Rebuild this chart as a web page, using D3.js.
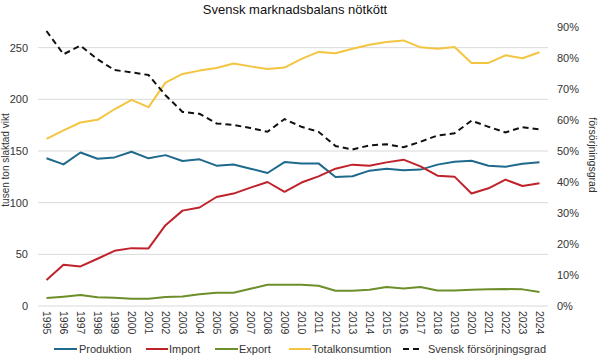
<!DOCTYPE html>
<html><head><meta charset="utf-8">
<script src="https://cdn.jsdelivr.net/npm/d3@7"></script>
<style>body{margin:0;background:#fff}svg{display:block}text{font-family:"Liberation Sans",Arial,sans-serif}</style>
</head><body><svg id="c" width="600" height="360"></svg>
<script>
const years = d3.range(1995, 2025).map(String);
const produktion = [143,137,148.6,142.5,143.8,149.3,142.9,146,140.3,141.9,135.8,137,132.9,128.7,139.3,138,138,124.8,125.5,131,132.9,131.3,132,136.8,139.7,140.6,135.8,134.8,137.7,139];
const importv = [25.1,39.9,38.3,45.7,53.4,56,55.7,78.2,92.3,95.3,105.5,108.8,114.6,120,110.5,119.5,125.5,132.9,136.8,135.8,139,141.6,135.1,126.1,125.2,108.8,113.9,122.3,116.1,118.7];
const exportv = [7.7,9,10.6,8.4,8,7.1,7.1,8.7,9.3,11.3,12.9,12.9,16.7,20.6,20.6,20.6,19.6,14.8,14.8,15.8,18.3,17,18.3,15.1,15.1,15.8,16.1,16.4,16.1,13.5];
const total = [161.8,169.9,177.6,180.2,190.4,199.5,192.4,216.2,224.6,227.8,230.4,234.6,231.9,229.4,230.7,239.1,245.9,244.6,249,252.9,255.4,257,250.3,249,250.6,235.2,235.2,242.6,239.7,245.5];
const grad = [0.887,0.812,0.84,0.796,0.761,0.754,0.745,0.68,0.626,0.62,0.589,0.584,0.574,0.562,0.603,0.578,0.562,0.516,0.505,0.518,0.522,0.512,0.53,0.55,0.557,0.598,0.578,0.56,0.577,0.57];
const leftTicks = [0,50,100,150,200,250];
const rightTicks = [0,0.1,0.2,0.3,0.4,0.5,0.6,0.7,0.8,0.9];

const svg = d3.select("#c");
const L = 38, R = 548, T = 27, B = 306;
const x = d3.scaleBand().domain(years).range([L, R]);
const xc = d => x(d) + x.bandwidth()/2;
const y = d3.scaleLinear().domain([0, 270]).range([B, T]);
const y2 = d3.scaleLinear().domain([0, 0.9]).range([B, T]);

// grid
svg.append("g").selectAll("line").data(leftTicks).join("line")
  .attr("x1", L).attr("x2", R).attr("y1", d => y(d)).attr("y2", d => y(d))
  .attr("stroke", "#d9d9d9").attr("stroke-width", 1);

// left axis
const ga = svg.append("g").attr("transform", `translate(${L},0)`)
  .call(d3.axisLeft(y).tickValues(leftTicks).tickSize(0).tickPadding(10));
ga.select(".domain").remove();
ga.selectAll("text").attr("font-size", 11).attr("fill", "#333").attr("font-family", '"Liberation Sans",Arial,sans-serif');

// right axis
const gr = svg.append("g").attr("transform", `translate(${R},0)`)
  .call(d3.axisRight(y2).tickValues(rightTicks).tickSize(0).tickPadding(9).tickFormat(d3.format(".0%")));
gr.select(".domain").remove();
gr.selectAll("text").attr("font-size", 11).attr("fill", "#333").attr("font-family", '"Liberation Sans",Arial,sans-serif');

// x axis labels
svg.append("g").selectAll("text").data(years).join("text")
  .attr("transform", d => `translate(${xc(d)-3.5},311) rotate(90)`)
  .attr("font-size", 10.5).attr("fill", "#333").text(d => d);

// lines
const line = arr => d3.line().x((d, i) => xc(years[i])).y(d => y(d))(arr);
const series = [
  {v: produktion, c: "#1f6a8c"},
  {v: importv, c: "#c0222b"},
  {v: exportv, c: "#6c8f2a"},
  {v: total, c: "#f3c540"}
];
series.forEach(s => svg.append("path").attr("d", line(s.v)).attr("fill", "none")
  .attr("stroke", s.c).attr("stroke-width", 2).attr("stroke-linejoin", "round"));
svg.append("path").attr("d", d3.line().x((d, i) => xc(years[i])).y(d => y2(d))(grad))
  .attr("fill", "none").attr("stroke", "#111").attr("stroke-width", 2).attr("stroke-dasharray", "6,4");

// title
svg.append("text").attr("x", 295).attr("y", 14).attr("text-anchor", "middle")
  .attr("font-size", 13).attr("fill", "#111").text("Svensk marknadsbalans nötkött");

// axis titles
svg.append("text").attr("transform", "translate(9,160) rotate(-90)").attr("text-anchor", "middle")
  .attr("font-size", 10).attr("fill", "#333").text("tusen ton slaktad vikt");
svg.append("text").attr("transform", "translate(589,155) rotate(90)").attr("text-anchor", "middle")
  .attr("font-size", 10.5).attr("fill", "#333").text("försörjningsgrad");

// legend
const legend = [
  {t: "Produktion", c: "#1f6a8c", x1: 54, x2: 77, tx: 79},
  {t: "Import", c: "#c0222b", x1: 146, x2: 168, tx: 169},
  {t: "Export", c: "#6c8f2a", x1: 215, x2: 238, tx: 239},
  {t: "Totalkonsumtion", c: "#f3c540", x1: 289, x2: 311, tx: 312},
  {t: "Svensk försörjningsgrad", c: "#111", x1: 403, x2: 421, tx: 428, dash: true}
];
const lg = svg.append("g");
legend.forEach(l => {
  lg.append("line").attr("x1", l.x1).attr("x2", l.x2).attr("y1", 349).attr("y2", 349)
    .attr("stroke", l.c).attr("stroke-width", 2).attr("stroke-dasharray", l.dash ? "6,4" : null);
  lg.append("text").attr("x", l.tx).attr("y", 353).attr("font-size", 11).attr("fill", "#333").text(l.t);
});
</script></body></html>
